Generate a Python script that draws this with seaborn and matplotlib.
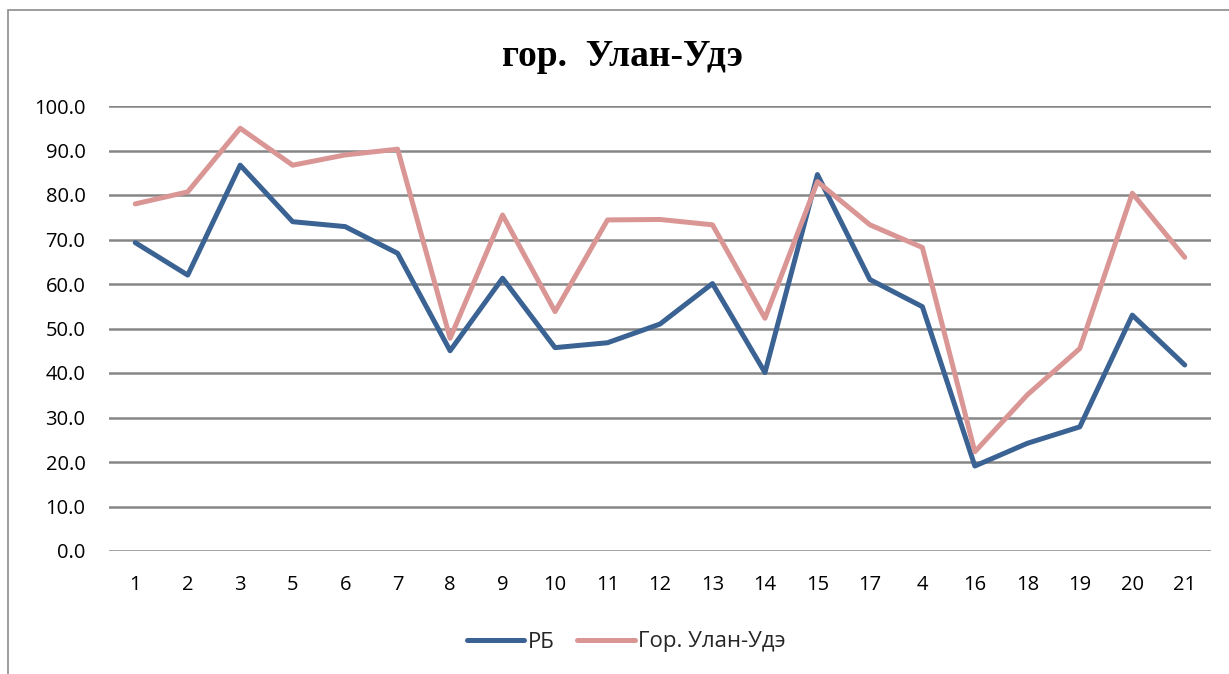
import numpy as np
import pandas as pd
import matplotlib
matplotlib.use("Agg")
import matplotlib.pyplot as plt
import seaborn as sns
from matplotlib.patches import Rectangle
from matplotlib.lines import Line2D

categories = ["1", "2", "3", "5", "6", "7", "8", "9", "10", "11", "12", "13", "14", "15", "17", "4", "16", "18", "19", "20", "21"]
rb = [69.3, 62.0, 86.7, 74.0, 72.9, 66.9, 45.0, 61.3, 45.7, 46.8, 51.0, 60.1, 40.1, 84.6, 61.0, 54.9, 19.1, 24.2, 27.9, 53.0, 41.8]
ulan_ude = [78.0, 80.7, 95.0, 86.7, 89.0, 90.3, 47.8, 75.5, 53.8, 74.4, 74.5, 73.3, 52.3, 83.0, 73.3, 68.2, 22.3, 35.1, 45.5, 80.4, 66.0]
series_names = ["РБ", "Гор. Улан-Удэ"]
title = "гор.  Улан-Удэ"

pos = np.arange(len(categories))
df = pd.DataFrame({
    "pos": np.concatenate([pos, pos]),
    "value": rb + ulan_ude,
    "series": [series_names[0]] * len(rb) + [series_names[1]] * len(ulan_ude),
})

sns.set_style("white")
plt.rcParams["font.family"] = ["Open Sans", "DejaVu Sans"]

fig = plt.figure(figsize=(12.29, 6.74), dpi=100)
ax = fig.add_axes([109 / 1229, 1 - 551 / 674, 1102 / 1229, 445 / 674])

palette = {series_names[0]: "#3A6293", series_names[1]: "#D99694"}
sns.lineplot(data=df, x="pos", y="value", hue="series", palette=palette,
             linewidth=3.6, ax=ax, sort=False, legend=False)

ax.set_xlim(-0.5, len(categories) - 0.5)
ax.set_ylim(0, 100)
yt = np.arange(0, 101, 10)
ax.set_yticks(yt)
ax.set_yticklabels([f"{v:.1f}" for v in yt], fontsize=14.5)
ax.set_xticks(pos)
ax.set_xticklabels(categories, fontsize=14.5)
ax.tick_params(axis="both", length=0, labelcolor="black")
ax.tick_params(axis="x", pad=17)
ax.tick_params(axis="y", pad=17)
ax.set_xlabel("")
ax.set_ylabel("")
ax.grid(axis="y", color="#868686", linewidth=1.8)
ax.set_axisbelow(True)
for s in ax.spines.values():
    s.set_visible(False)

fig.text(622 / 1229, 1 - 56 / 674, title, ha="center", va="center", fontsize=27,
         fontweight="bold", family=["Liberation Serif", "DejaVu Serif"], color="black")

handles = [Line2D([0], [0], color=palette[n], linewidth=3.6, solid_capstyle="round") for n in series_names]
fig.legend(handles, series_names, loc="center", bbox_to_anchor=(626 / 1229, 1 - 642 / 674),
           ncol=2, frameon=False, fontsize=16, handlelength=2.6, columnspacing=1.0, handletextpad=0.15)

fig.patches.append(Rectangle((8 / 1229, -0.01), 1.1, 1 - 10 / 674 + 0.01, transform=fig.transFigure,
                             fill=False, edgecolor="#8c8c8c", linewidth=1.2))

fig.savefig("out.png", dpi=100)
